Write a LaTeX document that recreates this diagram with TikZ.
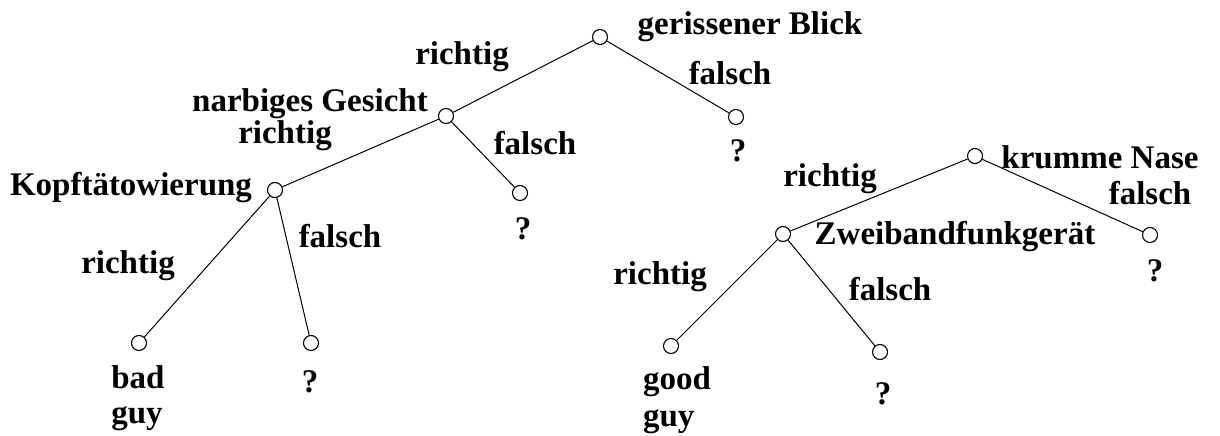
\documentclass[tikz,border=0pt]{standalone}
\usepackage{fontspec}
\setmainfont{Liberation Serif}
\begin{document}
\begin{tikzpicture}[x=1pt,y=-1pt,
  nd/.style={circle,draw,line width=1.1pt,minimum size=15pt,inner sep=0pt},
  lbl/.style={font=\fontsize{33}{33}\selectfont\bfseries,inner sep=0pt,anchor=center},
  edge/.style={line width=1pt}]
\useasboundingbox (0,0) rectangle (1220,436);
% left tree
\node[nd] (A) at (600,37) {};
\node[nd] (Aq) at (736,117) {};
\node[nd] (B) at (446,116) {};
\node[nd] (Bq) at (520,193) {};
\node[nd] (C) at (275,190) {};
\node[nd] (bad) at (139,343) {};
\node[nd] (Cq) at (311,343) {};
% right tree
\node[nd] (D) at (975,156) {};
\node[nd] (Dq) at (1150,235) {};
\node[nd] (E) at (783,234) {};
\node[nd] (good) at (671,346) {};
\node[nd] (Eq) at (880,352) {};
\draw[edge] (A) -- (B);
\draw[edge] (A) -- (Aq);
\draw[edge] (B) -- (C);
\draw[edge] (B) -- (Bq);
\draw[edge] (C) -- (bad);
\draw[edge] (C) -- (Cq);
\draw[edge] (D) -- (E);
\draw[edge] (D) -- (Dq);
\draw[edge] (E) -- (good);
\draw[edge] (E) -- (Eq);
% labels
\node[lbl] (tA) at (750,27) {gerissener Blick};
\node[lbl] (rA) at (462,57) {richtig};
\node[lbl] (fA) at (730,73) {falsch};
\node[lbl] (qA) at (738,151) {?};
\node[lbl] (tB) at (310,104) {narbiges Gesicht};
\node[lbl] (rB) at (285,136) {richtig};
\node[lbl] (fB) at (535,143) {falsch};
\node[lbl] (qB) at (523,229) {?};
\node[lbl] (tC) at (131,188) {Kopftätowierung};
\node[lbl] (rC) at (128,266) {richtig};
\node[lbl] (fC) at (340,236) {falsch};
\node[lbl,align=left,font=\fontsize{33}{35}\selectfont\bfseries] (tbad) at (138,398) {bad\\guy};
\node[lbl] (qC) at (310,382) {?};
\node[lbl] (tD) at (1100,157) {krumme Nase};
\node[lbl] (rD) at (830,179) {richtig};
\node[lbl] (fD) at (1150,193) {falsch};
\node[lbl] (qD) at (1155,271) {?};
\node[lbl] (tE) at (955,237) {Zweibandfunkgerät};
\node[lbl] (rE) at (660,277) {richtig};
\node[lbl] (fE) at (890,289) {falsch};
\node[lbl,align=left,font=\fontsize{33}{37}\selectfont\bfseries] (tgood) at (677,400) {good\\guy};
\node[lbl] (qE) at (883,394) {?};
\end{tikzpicture}
\end{document}
